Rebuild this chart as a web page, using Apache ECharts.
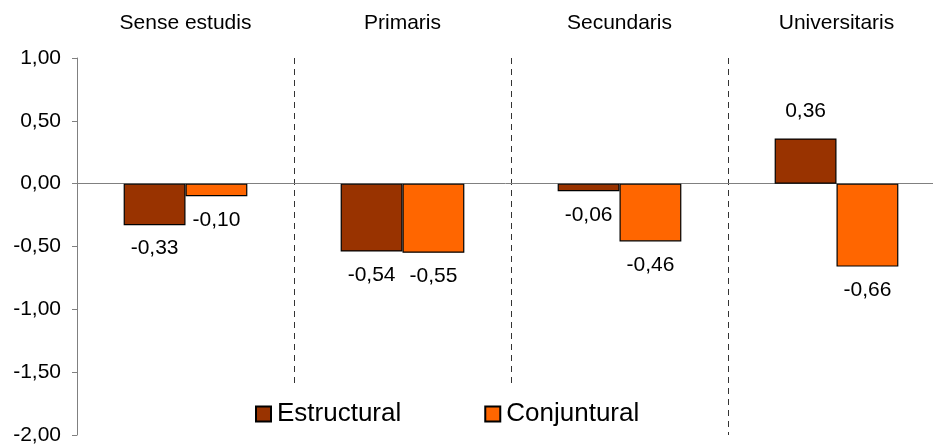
<!DOCTYPE html>
<html>
<head>
<meta charset="utf-8">
<script src="https://cdn.jsdelivr.net/npm/echarts@6/dist/echarts.min.js"></script>
<style>
html,body{margin:0;padding:0;background:#fff;}
#c{width:933px;height:444px;}
</style>
</head>
<body>
<div id="c"></div>
<script>
const categories = ['Sense estudis', 'Primaris', 'Secundaris', 'Universitaris'];
const seriesNames = ['Estructural', 'Conjuntural'];
const estructural = [-0.33, -0.54, -0.06, 0.36];
const conjuntural = [-0.10, -0.55, -0.46, -0.66];
const yTicks = { min: -2, max: 1, interval: 0.5 };

const fmt = v => v.toFixed(2).replace('.', ',');
const FONT = 'Liberation Sans, Arial, sans-serif';

function toData(arr) {
  return arr.map(v => ({
    value: v,
    label: { position: v >= 0 ? 'top' : 'bottom', distance: v >= 0 ? 17 : 13 }
  }));
}

const chart = echarts.init(document.getElementById('c'), null, { renderer: 'canvas' });
chart.setOption({
  animation: false,
  backgroundColor: '#fff',
  grid: { left: 77, width: 868, top: 58, bottom: 9, containLabel: false, outerBoundsMode: 'none' },
  legend: {
    data: seriesNames,
    left: 250,
    top: 387,
    padding: [14, 6, 30, 5],
    backgroundColor: '#fff',
    itemWidth: 15,
    itemHeight: 15,
    itemGap: 83,
    icon: 'rect',
    textStyle: { fontFamily: FONT, fontSize: 26, color: '#000', padding: [0, 0, 0, 1] },
    z: 10
  },
  xAxis: {
    type: 'category',
    data: categories,
    position: 'top',
    axisLine: { show: false, onZero: false },
    axisTick: { show: false },
    axisLabel: { fontFamily: FONT, fontSize: 21, color: '#000', margin: 24 },
    splitLine: { show: true, lineStyle: { type: [6, 5], color: '#333', width: 1 } }
  },
  yAxis: {
    type: 'value',
    min: yTicks.min,
    max: yTicks.max,
    interval: yTicks.interval,
    axisLine: { show: true, lineStyle: { color: '#808080', width: 1 } },
    axisTick: { show: true, length: 5, lineStyle: { color: '#808080' } },
    axisLabel: { fontFamily: FONT, fontSize: 21, color: '#000', margin: 16, formatter: fmt },
    splitLine: { show: false }
  },
  series: [
    {
      name: seriesNames[0],
      type: 'bar',
      data: toData(estructural),
      barGap: '0%',
      barCategoryGap: '43%',
      itemStyle: { color: '#993300', borderColor: '#000', borderWidth: 1.2 },
      label: { show: true, fontFamily: FONT, fontSize: 21, color: '#000', formatter: p => fmt(p.value) },
      markLine: {
        silent: true,
        symbol: 'none',
        label: { show: false },
        lineStyle: { color: '#808080', type: 'solid', width: 1 },
        data: [{ yAxis: 0 }],
        z: 1
      }
    },
    {
      name: seriesNames[1],
      type: 'bar',
      data: toData(conjuntural),
      barGap: '0%',
      barCategoryGap: '43%',
      itemStyle: { color: '#FF6600', borderColor: '#000', borderWidth: 1.2 },
      label: { show: true, fontFamily: FONT, fontSize: 21, color: '#000', formatter: p => fmt(p.value) }
    }
  ]
});
</script>
</body>
</html>
